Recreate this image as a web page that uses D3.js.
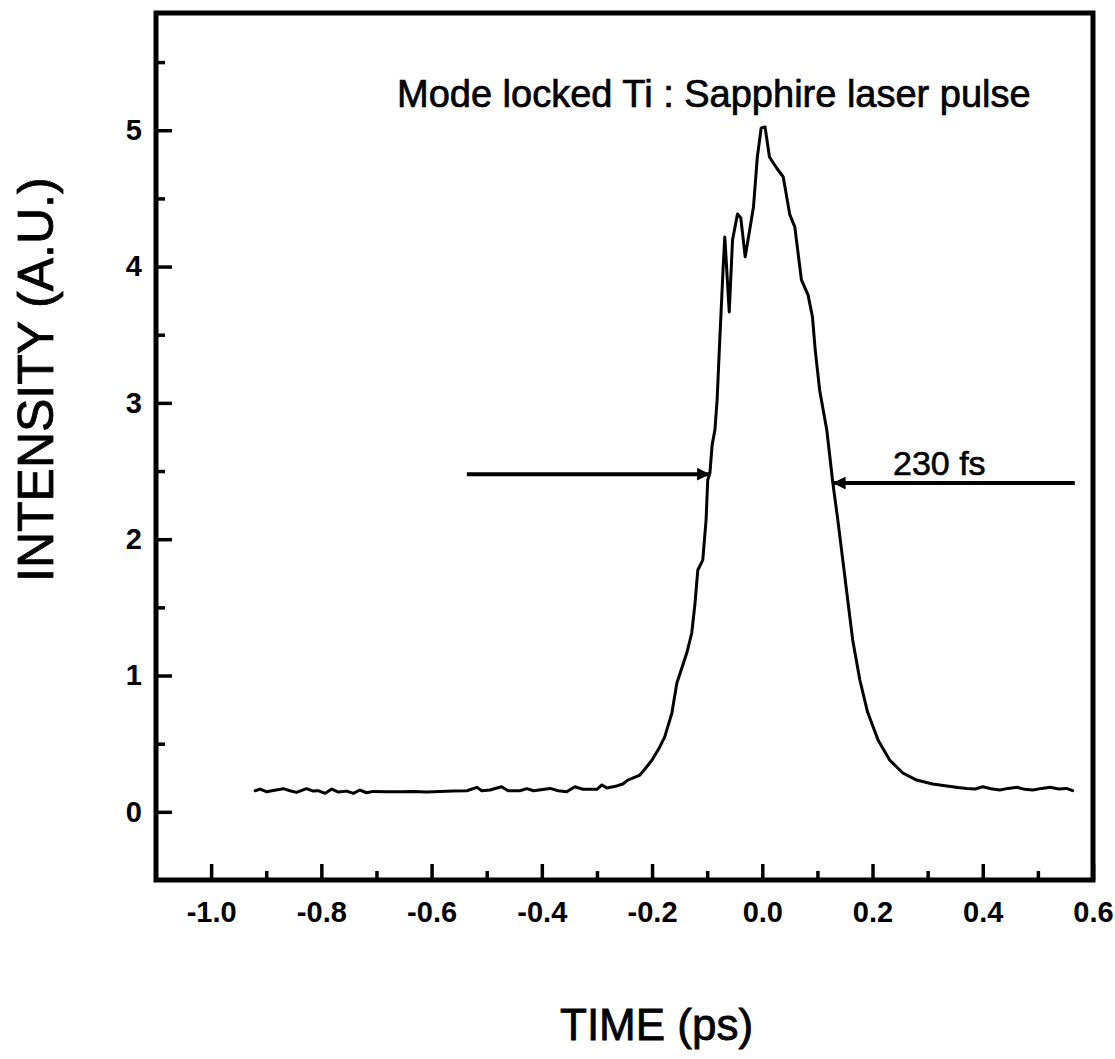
<!DOCTYPE html>
<html>
<head>
<meta charset="utf-8">
<script src="https://cdn.jsdelivr.net/npm/d3@7"></script>
<style>
  html, body { margin: 0; padding: 0; background: #fff; }
  svg { display: block; }
  text { font-family: "Liberation Sans", Arial, Helvetica, sans-serif; fill: #000; }
</style>
</head>
<body>
<svg id="chart" width="1115" height="1059"></svg>
<script>
// Autocorrelation trace of a mode-locked Ti:Sapphire pulse
const timePs = [
  -0.920, -0.911, -0.899, -0.890, -0.869, -0.857, -0.845, -0.827, -0.815, -0.806,
  -0.793, -0.781, -0.769, -0.754, -0.742, -0.730, -0.718, -0.706, -0.681, -0.657,
  -0.633, -0.609, -0.585, -0.561, -0.536, -0.518, -0.509, -0.494, -0.473, -0.461,
  -0.440, -0.427, -0.415, -0.385, -0.370, -0.355, -0.340, -0.325, -0.300, -0.291,
  -0.282, -0.264, -0.253, -0.244, -0.222, -0.210, -0.200, -0.186, -0.177, -0.164,
  -0.155, -0.149, -0.137, -0.128, -0.122, -0.117, -0.108, -0.102, -0.099, -0.095,
  -0.091, -0.086, -0.082, -0.078, -0.071, -0.068, -0.060, -0.054, -0.045, -0.039,
  -0.031, -0.016, -0.009, -0.002, 0.005, 0.013, 0.026, 0.038, 0.050, 0.059,
  0.071, 0.083, 0.091, 0.096, 0.104, 0.117, 0.128, 0.137, 0.146, 0.155,
  0.164, 0.177, 0.191, 0.210, 0.231, 0.255, 0.280, 0.309, 0.335, 0.355,
  0.371, 0.386, 0.400, 0.415, 0.431, 0.446, 0.462, 0.476, 0.491, 0.507,
  0.522, 0.538, 0.552, 0.563
];
const intensity = [
  0.155, 0.167, 0.147, 0.155, 0.170, 0.155, 0.143, 0.170, 0.152, 0.155,
  0.136, 0.167, 0.145, 0.152, 0.136, 0.160, 0.140, 0.150, 0.147, 0.147,
  0.150, 0.145, 0.150, 0.152, 0.155, 0.180, 0.155, 0.160, 0.184, 0.155,
  0.155, 0.170, 0.155, 0.172, 0.155, 0.147, 0.184, 0.165, 0.165, 0.197,
  0.175, 0.190, 0.204, 0.233, 0.270, 0.329, 0.380, 0.476, 0.550, 0.725,
  0.945, 1.018, 1.165, 1.312, 1.532, 1.774, 1.847, 2.141, 2.434, 2.486,
  2.692, 2.800, 3.020, 3.388, 3.997, 4.217, 3.667, 4.195, 4.386, 4.357,
  4.071, 4.437, 4.804, 5.017, 5.024, 4.804, 4.723, 4.657, 4.379, 4.291,
  3.902, 3.792, 3.631, 3.389, 3.095, 2.801, 2.412, 2.142, 1.848, 1.554,
  1.261, 0.967, 0.732, 0.527, 0.380, 0.285, 0.233, 0.204, 0.189, 0.178,
  0.172, 0.168, 0.184, 0.170, 0.160, 0.172, 0.180, 0.165, 0.160, 0.172,
  0.180, 0.168, 0.172, 0.155
];

// Axis ticks
const xMajorTicks = [-1.0, -0.8, -0.6, -0.4, -0.2, 0.0, 0.2, 0.4, 0.6];
const xTickLabels = ["-1.0", "-0.8", "-0.6", "-0.4", "-0.2", "0.0", "0.2", "0.4", "0.6"];
const xMinorTicks = [-0.9, -0.7, -0.5, -0.3, -0.1, 0.1, 0.3, 0.5];
const yMajorTicks = [0, 1, 2, 3, 4, 5];
const yTickLabels = ["0", "1", "2", "3", "4", "5"];
const yMinorTicks = [0.5, 1.5, 2.5, 3.5, 4.5, 5.5];

// FWHM markers: [tail time, tip time, intensity level]
const fwhmLeft = [-0.536, -0.095, 2.477];
const fwhmRight = [0.567, 0.128, 2.412];
const fwhmLabel = "230 fs";
const titleText = "Mode locked Ti : Sapphire laser pulse";
const xTitle = "TIME (ps)";
const yTitle = "INTENSITY (A.U.)";

const svg = d3.select("#chart");
const plot = { left: 156, right: 1093, top: 13, bottom: 880 };

const x = d3.scaleLinear().domain([-1.1, 0.6]).range([plot.left, plot.right]);
const y = d3.scaleLinear().domain([-0.5, 5.86]).range([plot.bottom, plot.top]);

// Ticks point inward from the frame
const xAxisMajor = d3.axisBottom(x).tickValues(xMajorTicks).tickSize(-16).tickPadding(21)
  .tickFormat((d, i) => xTickLabels[i]);
const xAxisMinor = d3.axisBottom(x).tickValues(xMinorTicks).tickSize(-9).tickFormat("");
const yAxisMajor = d3.axisLeft(y).tickValues(yMajorTicks).tickSize(-16).tickPadding(14)
  .tickFormat((d, i) => yTickLabels[i]);
const yAxisMinor = d3.axisLeft(y).tickValues(yMinorTicks).tickSize(-9).tickFormat("");

function styleAxis(g) {
  g.select(".domain").remove();
  g.selectAll(".tick line").attr("stroke", "#000").attr("stroke-width", 3.5);
  g.selectAll(".tick text")
    .attr("font-size", 29)
    .attr("font-weight", "bold")
    .attr("font-family", "'Liberation Sans', Arial, Helvetica, sans-serif");
}

svg.append("g").attr("transform", `translate(0,${plot.bottom})`).call(xAxisMajor).call(styleAxis);
svg.append("g").attr("transform", `translate(0,${plot.bottom})`).call(xAxisMinor).call(styleAxis);
svg.append("g").attr("transform", `translate(${plot.left},0)`).call(yAxisMajor).call(styleAxis);
svg.append("g").attr("transform", `translate(${plot.left},0)`).call(yAxisMinor).call(styleAxis);

// Plot frame
svg.append("rect")
  .attr("x", plot.left).attr("y", plot.top)
  .attr("width", plot.right - plot.left).attr("height", plot.bottom - plot.top)
  .attr("fill", "none").attr("stroke", "#000").attr("stroke-width", 5);

// Pulse trace
const line = d3.line().x(d => x(d[0])).y(d => y(d[1]));
svg.append("path")
  .datum(timePs.map((t, i) => [t, intensity[i]]))
  .attr("d", line)
  .attr("fill", "none").attr("stroke", "#000")
  .attr("stroke-width", 3).attr("stroke-linejoin", "round").attr("stroke-linecap", "round");

// FWHM arrows
const defs = svg.append("defs");
defs.append("marker")
  .attr("id", "head").attr("viewBox", "0 0 10 10")
  .attr("refX", 10).attr("refY", 5)
  .attr("markerWidth", 4.2).attr("markerHeight", 3.2)
  .attr("markerUnits", "strokeWidth").attr("orient", "auto")
  .append("path").attr("d", "M0,0 L10,5 L0,10 Z").attr("fill", "#000");

[fwhmLeft, fwhmRight].forEach(a => {
  svg.append("line")
    .attr("x1", x(a[0])).attr("y1", y(a[2]))
    .attr("x2", x(a[1])).attr("y2", y(a[2]))
    .attr("stroke", "#000").attr("stroke-width", 4)
    .attr("marker-end", "url(#head)");
});

svg.append("text")
  .attr("x", 893).attr("y", 475)
  .attr("font-size", 34)
  .attr("stroke", "#000").attr("stroke-width", 0.6)
  .text(fwhmLabel);

// Title inside the frame
svg.append("text")
  .attr("x", 397).attr("y", 107)
  .attr("font-size", 38)
  .attr("stroke", "#000").attr("stroke-width", 0.7)
  .text(titleText);

// Axis titles
svg.append("text")
  .attr("x", 560).attr("y", 1040)
  .attr("font-size", 44)
  .attr("stroke", "#000").attr("stroke-width", 0.8)
  .text(xTitle);

svg.append("text")
  .attr("transform", "translate(53,582) rotate(-90)")
  .attr("font-size", 50)
  .attr("stroke", "#000").attr("stroke-width", 0.8)
  .text(yTitle);
</script>
</body>
</html>
